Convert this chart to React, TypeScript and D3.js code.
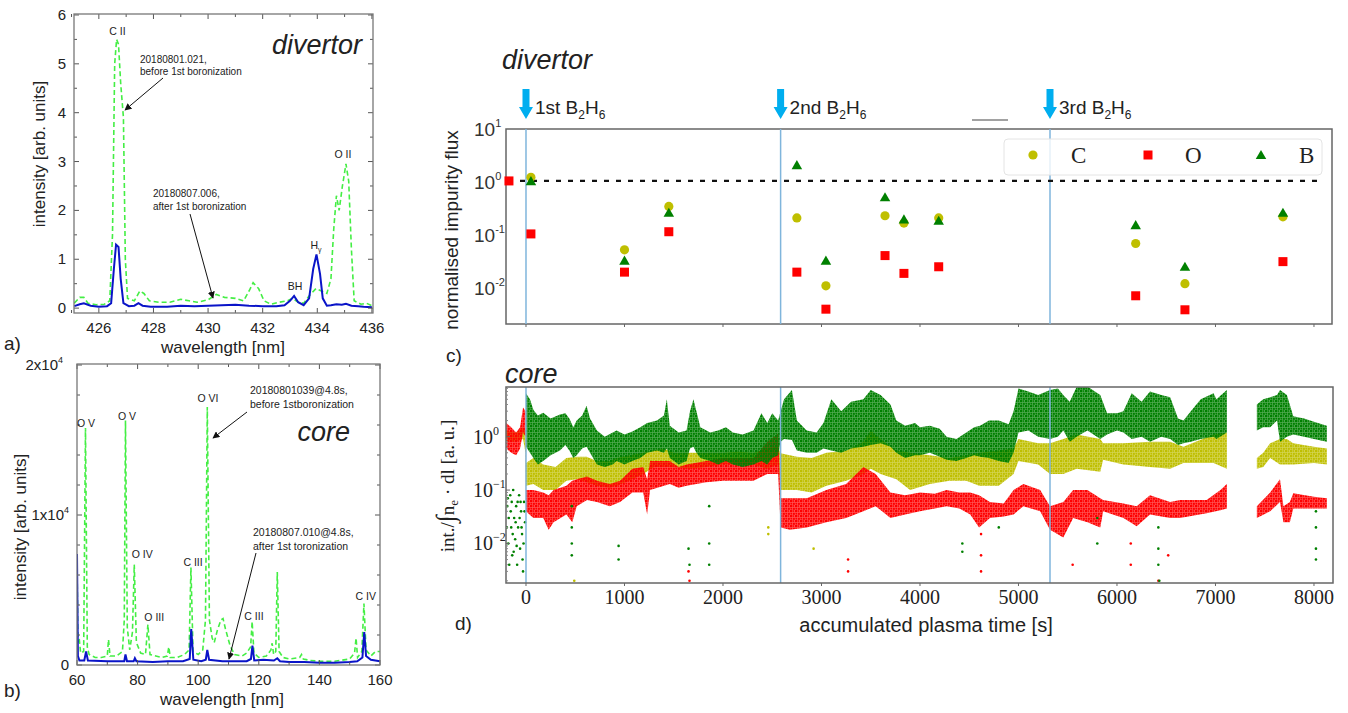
import React from "react";
import * as d3 from "d3";

const SANS = "'Liberation Sans', Arial, Helvetica, sans-serif";
const SERIF = "'Liberation Serif', 'Times New Roman', serif";

// ---------- Panel a: divertor spectra ----------
const aBefore: [number, number][] = [
  [425.1, 0.1], [425.3, 0.22], [425.45, 0.22], [425.6, 0.1], [425.9, 0.07], [426.2, 0.08], [426.4, 0.15],
  [426.5, 1.5], [426.58, 5.0], [426.65, 5.5], [426.72, 5.4], [426.8, 4.6], [426.9, 3.9], [426.97, 1.0],
  [427.05, 0.2], [427.3, 0.15], [427.5, 0.35], [427.65, 0.3], [427.85, 0.15], [428.2, 0.12], [428.6, 0.12],
  [429.0, 0.18], [429.3, 0.15], [429.6, 0.12], [430.0, 0.17], [430.3, 0.28], [430.6, 0.22], [431.0, 0.2],
  [431.3, 0.15], [431.5, 0.35], [431.65, 0.52], [431.85, 0.4], [432.05, 0.15], [432.3, 0.08], [432.6, 0.12],
  [432.9, 0.15], [433.1, 0.2], [433.3, 0.12], [433.5, 0.1], [433.7, 0.25], [433.95, 0.4], [434.15, 0.35],
  [434.35, 0.3], [434.5, 0.6], [434.6, 1.6], [434.7, 2.3], [434.8, 2.0], [434.92, 2.5], [435.05, 2.95],
  [435.15, 2.6], [435.25, 1.2], [435.35, 0.15], [435.6, 0.08], [435.8, 0.1], [436.0, 0.05],
];
const aAfter: [number, number][] = [
  [425.1, 0.04], [425.3, 0.08], [425.45, 0.1], [425.7, 0.05], [426.0, 0.03], [426.3, 0.04], [426.45, 0.1],
  [426.55, 0.8], [426.63, 1.3], [426.72, 1.25], [426.8, 0.6], [426.9, 0.1], [427.1, 0.04], [427.3, 0.05],
  [427.45, 0.1], [427.6, 0.05], [427.9, 0.03], [428.5, 0.03], [429.0, 0.05], [429.5, 0.04], [430.0, 0.05],
  [430.5, 0.06], [431.0, 0.07], [431.5, 0.05], [432.0, 0.04], [432.5, 0.04], [432.8, 0.06], [433.0, 0.15],
  [433.15, 0.25], [433.3, 0.12], [433.5, 0.06], [433.7, 0.2], [433.85, 0.8], [433.97, 1.1], [434.1, 0.7],
  [434.2, 0.2], [434.35, 0.05], [434.5, 0.06], [434.7, 0.08], [434.9, 0.07], [435.05, 0.09], [435.25, 0.05],
  [435.5, 0.04], [435.7, 0.03], [436.0, 0.02],
];
const aXTicks = [426, 428, 430, 432, 434, 436];
const aYTicks = [0, 1, 2, 3, 4, 5, 6];

// ---------- Panel b: core spectra ----------
const bBefore: [number, number][] = [
  [60.0, 7000], [60.3, 1500], [60.7, 1800], [61.2, 800], [62.2, 900], [62.8, 15800], [63.4, 1200], [64, 700],
  [66, 500], [68, 500], [70.0, 600], [70.4, 1700], [70.9, 600], [73, 600], [75, 900], [75.6, 3000],
  [76.0, 16300], [76.6, 2500], [77.4, 1000], [78.3, 2200], [78.9, 6700], [79.6, 1500], [81, 800], [82.6, 700],
  [83.4, 2700], [84.1, 700], [86, 600], [88, 500], [89.8, 600], [90.3, 1200], [90.8, 500], [93, 500],
  [95.5, 700], [97, 1000], [97.6, 6500], [98.3, 900], [100, 700], [101.5, 1000], [102.4, 3000], [103.0, 17200],
  [103.7, 3000], [104.6, 1800], [105.3, 1500], [106.3, 2300], [107.5, 3000], [108.2, 3100], [109, 2400],
  [110.5, 1300], [112, 700], [114.5, 600], [116, 800], [117.3, 1200], [117.8, 2900], [118.4, 800], [120, 500],
  [122.5, 600], [124.0, 1000], [124.4, 1450], [124.9, 700], [125.6, 900], [126.1, 6200], [126.7, 900],
  [128, 500], [130, 400], [133.5, 500], [134.1, 700], [134.7, 400], [137, 300], [140, 250], [145, 250],
  [150, 400], [151.6, 800], [152.1, 1800], [152.6, 500], [154, 900], [154.7, 4100], [155.4, 1000], [157, 600],
  [158.5, 900], [160, 900],
];
const bAfter: [number, number][] = [
  [60.0, 7400], [60.3, 600], [60.8, 300], [62.4, 300], [63.0, 900], [63.6, 300], [70, 250], [75.6, 250],
  [76.0, 700], [76.5, 250], [78.7, 250], [79.1, 450], [79.6, 250], [85, 200], [90, 250], [95, 250], [97.2, 400],
  [97.7, 2400], [98.4, 350], [101, 250], [102.5, 350], [103.0, 1000], [103.6, 350], [108, 250], [112, 250],
  [116, 250], [117.4, 400], [117.9, 1300], [118.5, 300], [121.5, 350], [125, 300], [126.1, 450], [127, 250],
  [130, 200], [135, 200], [140, 150], [145, 150], [150, 200], [152.5, 250], [154.2, 500], [154.8, 2200],
  [155.4, 600], [157, 350], [160, 250],
];
const bXTicks = [60, 80, 100, 120, 140, 160];

// ---------- Panel c: divertor normalised flux ----------
const cTimes = [-173, 50, 1000, 1450, 2750, 3045, 3645, 3837, 4190, 6190, 6690, 7685];
const cC = [null, 1.17, 0.05, 0.33, 0.2, 0.0105, 0.22, 0.16, 0.2, 0.066, 0.0115, 0.21];
const cO = [1.0, 0.1, 0.019, 0.11, 0.019, 0.0038, 0.039, 0.018, 0.024, 0.0068, 0.0037, 0.03];
const cB = [null, 0.95, 0.03, 0.24, 1.9, 0.03, 0.47, 0.18, 0.17, 0.14, 0.023, 0.24];
const boronizations = [0, 2585, 5320];
const boronLabels = ["1st", "2nd", "3rd"];
const timeTicks = [0, 1000, 2000, 3000, 4000, 5000, 6000, 7000, 8000];

// ---------- Panel d: core line ratios (bands: [t, low, high]) ----------
type Row = [number, number, number] | null;
const coreB: Row[] = [
  [0, 0.65, 6.5], [40, 0.5, 5], [75, 0.4, 3.2], [120, 0.3, 2.5], [175, 0.35, 2.8], [250, 0.45, 2.2],
  [345, 0.55, 2.6], [400, 0.7, 2.75], [440, 0.55, 2.2], [480, 0.4, 1.5], [515, 0.45, 2.0], [570, 0.6, 2.5],
  [615, 0.65, 3.8], [650, 0.5, 2.2], [720, 0.3, 1.3], [800, 0.27, 1.0], [880, 0.3, 1.2], [920, 0.35, 1.3],
  [1000, 0.3, 1.1], [1080, 0.35, 1.25], [1160, 0.4, 1.5], [1230, 0.5, 1.8], [1330, 0.55, 2.0], [1400, 0.5, 2.5],
  [1430, 0.6, 5.0], [1460, 0.4, 1.6], [1550, 0.3, 1.2], [1630, 0.35, 1.3], [1665, 0.6, 3.0], [1700, 0.65, 5.0],
  [1730, 0.5, 3.0], [1770, 0.4, 1.5], [1870, 0.35, 1.2], [1950, 0.3, 1.3], [2030, 0.35, 1.5], [2100, 0.3, 1.2],
  [2200, 0.27, 1.1], [2310, 0.3, 1.3], [2390, 0.35, 2.75], [2450, 0.3, 1.8], [2500, 0.4, 2.75], [2560, 0.45, 2.0],
  [2585, 0.8, 3.0], [2620, 0.9, 5.0], [2700, 0.87, 7.5], [2750, 0.55, 2.0], [2850, 0.5, 1.3], [2950, 0.5, 1.2],
  [3020, 0.6, 1.8], [3100, 0.55, 5.0], [3200, 0.5, 3.0], [3300, 0.6, 4.5], [3425, 0.65, 5.0], [3500, 0.7, 7.5],
  [3600, 0.75, 6.0], [3700, 0.65, 4.0], [3760, 0.5, 2.0], [3850, 0.4, 1.6], [3950, 0.45, 1.8], [4000, 0.45, 1.5],
  [4100, 0.5, 1.6], [4200, 0.42, 1.4], [4270, 0.37, 1.0], [4370, 0.35, 0.9], [4470, 0.4, 1.2], [4550, 0.45, 1.5],
  [4610, 0.42, 1.6], [4700, 0.4, 2.0], [4800, 0.35, 2.0], [4900, 0.32, 1.7], [4950, 0.5, 3.0], [5000, 1.2, 8.0],
  [5100, 1.3, 7.0], [5200, 1.0, 6.0], [5320, 0.9, 7.5], [5400, 1.0, 8.0], [5455, 1.3, 6.0], [5520, 0.8, 4.5],
  [5590, 1.0, 8.5], [5700, 1.3, 8.7], [5830, 0.9, 6.0], [5900, 1.1, 2.75], [6000, 1.3, 2.75], [6065, 1.2, 3.0],
  [6150, 0.9, 6.5], [6250, 1.0, 4.5], [6335, 0.8, 7.0], [6450, 1.0, 6.0], [6540, 0.9, 5.5], [6620, 0.7, 2.2],
  [6675, 0.75, 2.0], [6750, 0.8, 3.0], [6850, 0.9, 5.0], [6980, 1.0, 6.5], [7010, 0.9, 5.0], [7115, 1.2, 7.5],
  null,
  [7420, 1.3, 4.0], [7485, 1.5, 5.0], [7555, 1.5, 5.5], [7625, 2.0, 6.0], [7655, 0.8, 7.5], [7725, 1.0, 6.0],
  [7790, 1.1, 2.4], [7900, 1.0, 2.2], [8000, 0.9, 1.9], [8130, 0.8, 1.6],
];
const coreC: Row[] = [
  [-200, 0.8, 1.3], [-100, 0.8, 1.2], [-30, 0.9, 1.5], [-5, 0.5, 1.3],
  [0, 0.12, 0.32], [75, 0.13, 0.4], [175, 0.1, 0.3], [300, 0.1, 0.27], [410, 0.15, 0.4], [515, 0.16, 0.42],
  [615, 0.14, 0.42], [720, 0.12, 0.35], [850, 0.11, 0.35], [920, 0.12, 0.4], [1050, 0.15, 0.45],
  [1190, 0.2, 0.5], [1300, 0.27, 0.56], [1400, 0.27, 0.6], [1500, 0.27, 0.5], [1650, 0.25, 0.5],
  [1830, 0.27, 0.5], [2000, 0.3, 0.5], [2150, 0.3, 0.52], [2310, 0.3, 0.5], [2450, 0.25, 0.6], [2560, 0.3, 0.65],
  [2585, 0.1, 0.49], [2750, 0.1, 0.42], [2900, 0.09, 0.4], [3050, 0.12, 0.5], [3250, 0.15, 0.55],
  [3425, 0.2, 0.8], [3500, 0.25, 1.3], [3600, 0.2, 0.9], [3760, 0.16, 0.55], [3900, 0.1, 0.5],
  [4100, 0.13, 0.45], [4300, 0.15, 0.4], [4470, 0.15, 0.45], [4600, 0.12, 0.5], [4800, 0.12, 0.55],
  [4950, 0.2, 0.6], [5000, 0.35, 0.9], [5200, 0.3, 0.75], [5320, 0.2, 0.75], [5455, 0.2, 0.9],
  [5590, 0.25, 1.1], [5830, 0.22, 0.9], [5860, 0.37, 0.75], [6065, 0.3, 0.75], [6335, 0.27, 0.8],
  [6540, 0.25, 0.8], [6675, 0.32, 0.65], [6980, 0.32, 1.1], [7115, 0.25, 1.2],
  null,
  [7420, 0.25, 0.4], [7485, 0.27, 0.5], [7555, 0.4, 0.75], [7655, 0.3, 0.9], [7725, 0.3, 0.9],
  [7790, 0.3, 0.75], [8000, 0.32, 0.65], [8130, 0.3, 0.6],
];
const coreO: Row[] = [
  [-200, 0.6, 1.8], [-150, 0.5, 1.5], [-100, 0.45, 1.2], [-60, 0.6, 1.5], [-30, 1.2, 3.5], [-5, 1.0, 3.0],
  [0, 0.04, 0.1], [75, 0.03, 0.1], [175, 0.03, 0.09], [230, 0.018, 0.08], [280, 0.025, 0.1], [410, 0.035, 0.12],
  [470, 0.025, 0.15], [515, 0.05, 0.16], [620, 0.065, 0.18], [720, 0.06, 0.15], [850, 0.05, 0.13],
  [955, 0.06, 0.15], [1080, 0.09, 0.25], [1190, 0.09, 0.27], [1230, 0.035, 0.16], [1260, 0.1, 0.35],
  [1460, 0.13, 0.35], [1550, 0.11, 0.27], [1630, 0.12, 0.3], [1830, 0.14, 0.35], [2000, 0.15, 0.4],
  [2150, 0.15, 0.4], [2310, 0.15, 0.4], [2450, 0.2, 0.8], [2560, 0.2, 1.15],
  [2585, 0.02, 0.07], [2680, 0.018, 0.07], [2850, 0.02, 0.07], [3050, 0.025, 0.1], [3250, 0.03, 0.13],
  [3425, 0.04, 0.27], [3550, 0.05, 0.2], [3700, 0.03, 0.09], [3850, 0.035, 0.08], [4000, 0.04, 0.09],
  [4150, 0.045, 0.085], [4270, 0.05, 0.1], [4400, 0.045, 0.09], [4510, 0.035, 0.09], [4600, 0.02, 0.08],
  [4710, 0.03, 0.06], [4850, 0.032, 0.056], [4950, 0.035, 0.1], [5050, 0.05, 0.13], [5220, 0.04, 0.1],
  [5320, 0.018, 0.05], [5455, 0.013, 0.06], [5555, 0.03, 0.1], [5700, 0.025, 0.1], [5830, 0.02, 0.07],
  [5860, 0.04, 0.065], [6065, 0.03, 0.056], [6200, 0.021, 0.05], [6335, 0.035, 0.08], [6540, 0.03, 0.06],
  [6640, 0.03, 0.065], [6910, 0.037, 0.065], [7050, 0.042, 0.1], [7115, 0.045, 0.13],
  null,
  [7420, 0.03, 0.05], [7555, 0.04, 0.09], [7655, 0.06, 0.16], [7690, 0.025, 0.05], [7755, 0.025, 0.06],
  [7790, 0.045, 0.087], [8000, 0.045, 0.075], [8130, 0.045, 0.07],
];
// scattered single points outside the main clouds [t, value]
const strayB: [number, number][] = [
  [-190, 0.05], [-180, 0.01], [-170, 0.004], [-160, 0.08], [-150, 0.02], [-140, 0.006], [-130, 0.1],
  [-120, 0.03], [-110, 0.012], [-100, 0.05], [-90, 0.004], [-80, 0.02], [-70, 0.08], [-60, 0.008],
  [-50, 0.04], [-40, 0.015], [-30, 0.003], [-20, 0.06], [-10, 0.025], [-175, 0.03], [-125, 0.007],
  [-65, 0.03], [-25, 0.01], [-185, 0.07], [-155, 0.04], [-135, 0.015], [-105, 0.025], [-85, 0.06],
  [-45, 0.02], [-15, 0.04], [-195, 0.02], [-145, 0.06], [-95, 0.009], [-55, 0.06], [-35, 0.005],
  [465, 0.05], [465, 0.02], [465, 0.01], [465, 0.006], [940, 0.009], [940, 0.005],
  [1650, 0.008], [1660, 0.004], [1860, 0.05], [1860, 0.01], [1860, 0.004], [4430, 0.007], [4430, 0.01],
  [4800, 0.02], [5800, 0.03], [5800, 0.01], [6420, 0.02], [6420, 0.008], [6420, 0.004], [6430, 0.002],
  [8020, 0.04], [8020, 0.02], [8020, 0.008], [8020, 0.005],
];
const strayO: [number, number][] = [
  [1650, 0.003], [1660, 0.002], [4620, 0.015], [4620, 0.006], [4620, 0.003], [6140, 0.01], [6140, 0.004],
  [6420, 0.002], [6520, 0.006], [3270, 0.005], [3270, 0.003], [5550, 0.004],
];
const strayC: [number, number][] = [[2460, 0.02], [2460, 0.015], [2920, 0.008], [490, 0.002]];
const dYTicks = [1, 0.1, 0.01];
const dYTickExp = ["0", "\u22121", "\u22122"];

const GREEN = "#008000";
const YELLOW = "#bfbf00";
const RED = "#ff0000";
const VLINE = "#7fb5dc";
const ARROWBLUE = "#00aeef";

function FrameTicks({ x0, x1, y0, y1, xs, xMinor, ys, yMinor }: any) {
  const L = 5, l = 3;
  const segs: string[] = [];
  xs.forEach((x: number) => segs.push(`M${x},${y1}v${-L}M${x},${y0}v${L}`));
  xMinor.forEach((x: number) => segs.push(`M${x},${y1}v${-l}M${x},${y0}v${l}`));
  ys.forEach((y: number) => segs.push(`M${x0},${y}h${L}M${x1},${y}h${-L}`));
  yMinor.forEach((y: number) => segs.push(`M${x0},${y}h${l}M${x1},${y}h${-l}`));
  return (
    <g>
      <path d={segs.join("")} stroke="#555" strokeWidth={1} fill="none" />
      <rect x={x0} y={y0} width={x1 - x0} height={y1 - y0} fill="none" stroke="#777" strokeWidth={1.3} />
    </g>
  );
}

function BlueArrow({ x }: { x: number }) {
  return (
    <path
      d={`M${x - 3.5},89H${x + 3.5}V107H${x + 7}L${x},119L${x - 7},107H${x - 3.5}Z`}
      fill={ARROWBLUE}
    />
  );
}

function Speckle({ id, color }: { id: string; color: string }) {
  return (
    <pattern id={id} width={5} height={5} patternUnits="userSpaceOnUse">
      <rect x={0} y={0} width={5} height={5} fill={color} fillOpacity={0.5} />
      <rect x={0} y={0} width={2.4} height={2.4} fill={color} />
      <rect x={2.5} y={2.5} width={2.4} height={2.4} fill={color} />
      <rect x={2.6} y={0.2} width={1.9} height={1.7} fill={color} />
      <rect x={0.3} y={2.8} width={1.7} height={1.9} fill={color} />
    </pattern>
  );
}

export default function App() {
  const xA = d3.scaleLinear().domain([425.09, 436.04]).range([74, 373]);
  const yA = d3.scaleLinear().domain([-0.1, 6.02]).range([313, 14]);
  const xB = d3.scaleLinear().domain([60, 160]).range([77, 380]);
  const yB = d3.scaleLinear().domain([0, 20000]).range([665, 365]);
  const xT = d3.scaleLinear().domain([-203, 8183]).range([506, 1332]);
  const yC = d3.scaleLog().domain([10 ** -2.7, 10 ** 0.98]).range([324, 129]);
  const yD = d3.scaleLog().domain([10 ** -2.74, 10 ** 0.93]).range([583, 387]);

  const lineA = d3.line<[number, number]>().x((d) => xA(d[0])).y((d) => yA(d[1]));
  const lineB = d3.line<[number, number]>().x((d) => xB(d[0])).y((d) => yB(d[1]));
  const band = d3
    .area<Row>()
    .defined((d) => d !== null)
    .x((d) => xT((d as any)[0]))
    .y0((d) => yD((d as any)[1]))
    .y1((d) => yD((d as any)[2]));

  const tri = d3.symbol().type(d3.symbolTriangle).size(48)();
  const aMinorX = d3.range(425, 437, 1).filter((v) => v % 2 === 1);
  const aMinorY = d3.range(0.5, 6, 1);
  const bMinorX = d3.range(70, 160, 20);
  const bMinorY = d3.range(2000, 20000, 2000).filter((v) => v !== 10000);

  const dMinor: number[] = [];
  for (const dec of [0.001, 0.01, 0.1, 1]) for (let k = 2; k <= 9; k++) {
    const v = dec * k;
    if (v > yD.domain()[0] && v < yD.domain()[1]) dMinor.push(v);
  }

  const sub = (t: string) => (
    <tspan fontSize={12} dy={5}>{t}</tspan>
  );

  return (
    <svg width={1348} height={713} style={{ position: "absolute", left: 0, top: 0, background: "#fff" }}
      fontFamily={SANS}>
      <defs>
        <marker id="ah" viewBox="0 0 10 10" refX="9" refY="5" markerWidth="7" markerHeight="7" orient="auto-start-reverse">
          <path d="M0,0L10,5L0,10Z" fill="#111" />
        </marker>
        <clipPath id="clipA"><rect x={74} y={14} width={299} height={299} /></clipPath>
        <clipPath id="clipB"><rect x={77} y={363} width={303} height={302} /></clipPath>
        <clipPath id="clipD"><rect x={506} y={387} width={827} height={196} /></clipPath>
        <Speckle id="spG" color={GREEN} />
        <Speckle id="spY" color={YELLOW} />
        <Speckle id="spR" color={RED} />
      </defs>

      {/* ================= Panel a ================= */}
      <g clipPath="url(#clipA)">
        <path d={lineA(aBefore) || ""} fill="none" stroke="#44ee44" strokeWidth={1.6} strokeDasharray="5,3" />
        <path d={lineA(aAfter) || ""} fill="none" stroke="#0a14c8" strokeWidth={2} />
      </g>
      <FrameTicks x0={74} x1={373} y0={14} y1={313}
        xs={aXTicks.map(xA)} xMinor={aMinorX.map(xA)} ys={aYTicks.map(yA)} yMinor={aMinorY.map(yA)} />
      {aYTicks.map((v) => (
        <text key={v} x={66} y={yA(v) + 5} textAnchor="end" fontSize={15} fill="#222">{v}</text>
      ))}
      {aXTicks.map((v) => (
        <text key={v} x={xA(v)} y={333} textAnchor="middle" fontSize={15} fill="#222">{v}</text>
      ))}
      <text x={223} y={353} textAnchor="middle" fontSize={17} fill="#222">wavelength [nm]</text>
      <text transform="translate(45,154) rotate(-90)" textAnchor="middle" fontSize={17} fill="#222">intensity [arb. units]</text>
      <text x={362} y={54} textAnchor="end" fontSize={27} fontStyle="italic" fill="#222">divertor</text>
      <text x={xA(426.68)} y={35} textAnchor="middle" fontSize={10.5} fill="#222">C II</text>
      <text x={343} y={158} textAnchor="middle" fontSize={10.5} fill="#222">O II</text>
      <text x={295} y={290} textAnchor="middle" fontSize={10.5} fill="#222">BH</text>
      <text x={316} y={249} textAnchor="middle" fontSize={10.5} fill="#222">H<tspan fontSize={7} dy={3}>γ</tspan></text>
      <text x={140} y={63} fontSize={10} fill="#222">20180801.021,</text>
      <text x={140} y={75} fontSize={10} fill="#222">before 1st boronization</text>
      <line x1={163} y1={78} x2={125} y2={110} stroke="#111" strokeWidth={1} markerEnd="url(#ah)" />
      <text x={153} y={197} fontSize={10} fill="#222">20180807.006,</text>
      <text x={153} y={210} fontSize={10} fill="#222">after 1st boronization</text>
      <line x1={190} y1={214} x2={213} y2={298} stroke="#111" strokeWidth={1} markerEnd="url(#ah)" />
      <text x={4} y={350} fontSize={19} fill="#222">a)</text>

      {/* ================= Panel b ================= */}
      <g clipPath="url(#clipB)">
        <path d={lineB(bBefore) || ""} fill="none" stroke="#44ee44" strokeWidth={1.6} strokeDasharray="5,3" />
        <path d={lineB(bAfter) || ""} fill="none" stroke="#0a14c8" strokeWidth={2} />
      </g>
      <FrameTicks x0={77} x1={380} y0={364} y1={665}
        xs={bXTicks.map(xB)} xMinor={bMinorX.map(xB)} ys={[0, 10000, 20000].map(yB)} yMinor={bMinorY.map(yB)} />
      <text x={63} y={370} textAnchor="end" fontSize={15} fill="#222">2x10<tspan fontSize={9} dy={-7}>4</tspan></text>
      <text x={69} y={520} textAnchor="end" fontSize={15} fill="#222">1x10<tspan fontSize={9} dy={-7}>4</tspan></text>
      <text x={69} y={670} textAnchor="end" fontSize={15} fill="#222">0</text>
      {bXTicks.map((v) => (
        <text key={v} x={xB(v)} y={685} textAnchor="middle" fontSize={15} fill="#222">{v}</text>
      ))}
      <text x={222} y={705} textAnchor="middle" fontSize={17} fill="#222">wavelength [nm]</text>
      <text transform="translate(26,527) rotate(-90)" textAnchor="middle" fontSize={17} fill="#222">intensity [arb. units]</text>
      <text x={350} y={441} textAnchor="end" fontSize={27} fontStyle="italic" fill="#222">core</text>
      <text x={xB(63)} y={427} textAnchor="middle" fontSize={10.5} fill="#222">O V</text>
      <text x={xB(76.5)} y={420} textAnchor="middle" fontSize={10.5} fill="#222">O V</text>
      <text x={xB(103.2)} y={402} textAnchor="middle" fontSize={10.5} fill="#222">O VI</text>
      <text x={xB(81.5)} y={558} textAnchor="middle" fontSize={10.5} fill="#222">O IV</text>
      <text x={xB(85.5)} y={621} textAnchor="middle" fontSize={10.5} fill="#222">O III</text>
      <text x={xB(98.3)} y={566} textAnchor="middle" fontSize={10.5} fill="#222">C III</text>
      <text x={xB(118.4)} y={620} textAnchor="middle" fontSize={10.5} fill="#222">C III</text>
      <text x={xB(155.3)} y={600} textAnchor="middle" fontSize={10.5} fill="#222">C IV</text>
      <text x={250} y={394} fontSize={10.5} fill="#222">20180801039@4.8s,</text>
      <text x={250} y={408} fontSize={10.5} fill="#222">before 1stboronization</text>
      <line x1={247} y1={412} x2={213} y2={438} stroke="#111" strokeWidth={1} markerEnd="url(#ah)" />
      <text x={253} y={536} fontSize={10.5} fill="#222">20180807.010@4.8s,</text>
      <text x={253} y={550} fontSize={10.5} fill="#222">after 1st toronization</text>
      <line x1={256} y1={553} x2={229} y2={659} stroke="#111" strokeWidth={1} markerEnd="url(#ah)" />
      <text x={4} y={697} fontSize={19} fill="#222">b)</text>

      {/* ================= Panel c ================= */}
      <text x={502} y={69} fontSize={27} fontStyle="italic" fill="#222">divertor</text>
      {boronizations.map((t, i) => (
        <g key={t}>
          <BlueArrow x={xT(t)} />
          <text x={xT(t) + 9} y={114} fontSize={19} fill="#222">
            {boronLabels[i]} B{sub("2")}<tspan dy={-5}>H</tspan>{sub("6")}
          </text>
        </g>
      ))}
      <line x1={972} x2={1008} y1={120} y2={120} stroke="#444" strokeWidth={1} />
      <rect x={506} y={129} width={826} height={195} fill="none" stroke="#666" strokeWidth={1.5} />
      {timeTicks.map((t) => (
        <line key={t} x1={xT(t)} x2={xT(t)} y1={324} y2={327} stroke="#666" strokeWidth={1} />
      ))}
      {boronizations.map((t) => (
        <line key={t} x1={xT(t)} x2={xT(t)} y1={129} y2={324} stroke={VLINE} strokeWidth={1.5} />
      ))}
      <line x1={508} x2={1321} y1={yC(1)} y2={yC(1)} stroke="#111" strokeWidth={2.2} strokeDasharray="5,7" />
      {[10, 1, 0.1, 0.01].map((v, i) => (
        <text key={v} x={474} y={yC(v) + 8} fontSize={19} fill="#333">
          10<tspan fontSize={11} dy={-9}>{["1", "0", "-1", "-2"][i]}</tspan>
        </text>
      ))}
      <text transform="translate(458,230) rotate(-90)" textAnchor="middle" fontSize={19} fill="#222">normalised impurity flux</text>
      {cTimes.map((t, i) => (
        <g key={t}>
          {cC[i] !== null && <circle cx={xT(t)} cy={yC(cC[i] as number)} r={4.6} fill={YELLOW} />}
          {cB[i] !== null && <path d={tri || ""} transform={`translate(${xT(t)},${yC(cB[i] as number)})`} fill={GREEN} />}
          <rect x={xT(t) - 4.5} y={yC(cO[i]) - 4.5} width={9} height={9} fill={RED} />
        </g>
      ))}
      <rect x={1004} y={139} width={318} height={36} rx={4} fill="#fff" fillOpacity={0.8} stroke="#e4e4e4" strokeWidth={1} />
      <circle cx={1033} cy={155} r={4.6} fill={YELLOW} />
      <text x={1071} y={163} fontSize={23} fontFamily={SERIF} fill="#222">C</text>
      <rect x={1143.5} y={150.5} width={9} height={9} fill={RED} />
      <text x={1185} y={163} fontSize={23} fontFamily={SERIF} fill="#222">O</text>
      <path d={tri || ""} transform="translate(1261,156)" fill={GREEN} />
      <text x={1299} y={163} fontSize={23} fontFamily={SERIF} fill="#222">B</text>
      <text x={446} y={362} fontSize={19} fill="#222">c)</text>

      {/* ================= Panel d ================= */}
      <text x={505} y={383} fontSize={27} fontStyle="italic" fill="#222">core</text>
      <g clipPath="url(#clipD)">
        <path d={band(coreC) || ""} fill="url(#spY)" />
        <path d={band(coreO) || ""} fill="url(#spR)" />
        <path d={band(coreB) || ""} fill="url(#spG)" />
        {strayC.map((p, i) => <circle key={"c" + i} cx={xT(p[0])} cy={yD(p[1])} r={1.3} fill={YELLOW} />)}
        {strayO.map((p, i) => <circle key={"o" + i} cx={xT(p[0])} cy={yD(p[1])} r={1.3} fill={RED} />)}
        {strayB.map((p, i) => <circle key={"b" + i} cx={xT(p[0])} cy={yD(p[1])} r={1.3} fill={GREEN} />)}
      </g>
      {boronizations.map((t) => (
        <line key={t} x1={xT(t)} x2={xT(t)} y1={387} y2={583} stroke={VLINE} strokeWidth={1.5} />
      ))}
      <rect x={506} y={387} width={827} height={196} fill="none" stroke="#666" strokeWidth={1.5} />
      {dYTicks.map((v) => (
        <line key={v} x1={506} x2={510} y1={yD(v)} y2={yD(v)} stroke="#666" />
      ))}
      {dMinor.map((v) => (
        <line key={v} x1={506} x2={508} y1={yD(v)} y2={yD(v)} stroke="#888" />
      ))}
      {timeTicks.map((t) => (
        <g key={t}>
          <line x1={xT(t)} x2={xT(t)} y1={583} y2={586} stroke="#666" />
          <text x={xT(t)} y={604} textAnchor="middle" fontSize={20} fontFamily={SERIF} fill="#222">{t}</text>
        </g>
      ))}
      {dYTicks.map((v, i) => (
        <text key={v} x={473} y={yD(v) + 7} fontSize={20} fontFamily={SERIF} fill="#222">
          10<tspan fontSize={12} dy={-9}>{dYTickExp[i]}</tspan>
        </text>
      ))}
      <text transform="translate(454,486) rotate(-90)" textAnchor="middle" fontSize={19} fontFamily={SERIF} fill="#222">
        int./<tspan fontSize={26}>∫</tspan>n<tspan fontSize={13} dy={4}>e</tspan><tspan dy={-4}> · dl [a. u.]</tspan>
      </text>
      <text x={926} y={632} textAnchor="middle" fontSize={20} fill="#222">accumulated plasma time [s]</text>
      <text x={455} y={630} fontSize={19} fill="#222">d)</text>
    </svg>
  );
}
